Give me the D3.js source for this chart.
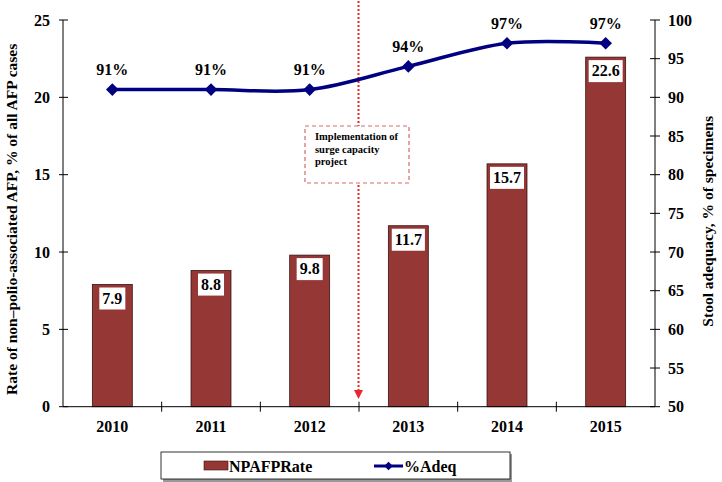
<!DOCTYPE html>
<html>
<head>
<meta charset="utf-8">
<script src="https://cdn.jsdelivr.net/npm/d3@7"></script>
<style>
  body { margin: 0; background: #fff; }
  svg { display: block; }
  text { font-family: "Liberation Serif", "Times New Roman", serif; font-weight: bold; fill: #000; }
</style>
</head>
<body>
<svg id="chart" width="722" height="482"></svg>
<script>
const years = ["2010", "2011", "2012", "2013", "2014", "2015"];
const npafpRate = [7.9, 8.8, 9.8, 11.7, 15.7, 22.6];
const adequacy = [91, 91, 91, 94, 97, 97];
const leftTicks = [0, 5, 10, 15, 20, 25];
const rightTicks = [50, 55, 60, 65, 70, 75, 80, 85, 90, 95, 100];
const seriesNames = ["NPAFPRate", "%Adeq"];
const annotationLines = ["Implementation of", "surge capacity", "project"];
const leftTitle = "Rate of non\u2013polio-associated AFP, % of all AFP cases";
const rightTitle = "Stool adequacy, % of specimens";

const svg = d3.select("#chart");
const L = 63, R = 655, T = 20, B = 406.7;
const barColor = "#953735", lineColor = "#000080";

const x = d3.scaleBand().domain(years).range([L, R]).paddingInner(0).paddingOuter(0);
const yL = d3.scaleLinear().domain([0, 25]).range([B, T]);
const yR = d3.scaleLinear().domain([50, 100]).range([B, T]);
const barW = x.bandwidth() * 0.405;
const cx = d => x(d) + x.bandwidth() / 2;

// bars
const bars = svg.append("g");
years.forEach((yr, i) => {
  bars.append("rect")
    .attr("x", cx(yr) - barW / 2).attr("y", yL(npafpRate[i]))
    .attr("width", barW).attr("height", yL(0) - yL(npafpRate[i]))
    .attr("fill", barColor).attr("stroke", "#3b1010").attr("stroke-width", 0.8);
});

// bar labels
years.forEach((yr, i) => {
  const g = svg.append("g");
  const t = g.append("text").attr("x", cx(yr)).attr("y", yL(npafpRate[i]) + 19)
    .attr("text-anchor", "middle").attr("font-size", 16).text(npafpRate[i].toFixed(1));
  const bb = t.node().getBBox();
  g.insert("rect", "text").attr("x", bb.x - 3).attr("y", yL(npafpRate[i]) + 3)
    .attr("width", bb.width + 6).attr("height", 22).attr("fill", "#fff");
});

// axes
const axes = svg.append("g").attr("stroke", "#000").attr("stroke-width", 1);
axes.append("line").attr("x1", L).attr("x2", L).attr("y1", T).attr("y2", B);
axes.append("line").attr("x1", R).attr("x2", R).attr("y1", T).attr("y2", B);
axes.append("line").attr("x1", L).attr("x2", R).attr("y1", B).attr("y2", B);
leftTicks.forEach(v => {
  axes.append("line").attr("x1", L - 4).attr("x2", L + 5).attr("y1", yL(v)).attr("y2", yL(v));
  svg.append("text").attr("x", L - 13).attr("y", yL(v)).attr("dy", "0.35em")
    .attr("text-anchor", "end").attr("font-size", 16).text(v);
});
rightTicks.forEach(v => {
  axes.append("line").attr("x1", R - 5).attr("x2", R + 5).attr("y1", yR(v)).attr("y2", yR(v));
  svg.append("text").attr("x", R + 13).attr("y", yR(v)).attr("dy", "0.35em")
    .attr("text-anchor", "start").attr("font-size", 16).text(v);
});
years.forEach((yr, i) => {
  if (i > 0) axes.append("line").attr("x1", x(yr)).attr("x2", x(yr)).attr("y1", B - 5).attr("y2", B + 5);
  svg.append("text").attr("x", cx(yr)).attr("y", B + 20).attr("dy", "0.35em")
    .attr("text-anchor", "middle").attr("font-size", 16).text(yr);
});

// axis titles
svg.append("text").attr("transform", `translate(17,${(T + B) / 2 + 6}) rotate(-90)`)
  .attr("text-anchor", "middle").attr("font-size", 15.5).text(leftTitle);
svg.append("text").attr("transform", `translate(713,${(T + B) / 2 + 8}) rotate(-90)`)
  .attr("text-anchor", "middle").attr("font-size", 15.5).text(rightTitle);

// annotation dotted line with arrow
const defs = svg.append("defs");
defs.append("marker").attr("id", "arrow").attr("viewBox", "0 0 10 10")
  .attr("refX", 5).attr("refY", 10).attr("markerWidth", 9).attr("markerHeight", 9)
  .attr("markerUnits", "userSpaceOnUse").attr("orient", "auto-start-reverse")
  .append("path").attr("d", "M0,0 L10,0 L5,10 Z").attr("fill", "#e8262b");
const ax = x("2013") - 0.5;
svg.append("line").attr("x1", ax).attr("x2", ax).attr("y1", 1).attr("y2", 390)
  .attr("stroke", "#e8262b").attr("stroke-width", 2).attr("stroke-dasharray", "2,2");
svg.append("path").attr("d", `M${ax - 4.5},390 L${ax + 4.5},390 L${ax},399 Z`).attr("fill", "#e8262b");

// annotation box
svg.append("rect").attr("x", 305).attr("y", 126).attr("width", 104).attr("height", 57)
  .attr("fill", "#fff").attr("stroke", "#d46a6a").attr("stroke-width", 1.2).attr("stroke-dasharray", "4,3");
annotationLines.forEach((s, i) => {
  svg.append("text").attr("x", 315).attr("y", 140 + i * 12.5).attr("font-size", 10.5).text(s);
});

// line
const line = d3.line().x((d, i) => cx(years[i])).y(d => yR(d)).curve(d3.curveCatmullRom.alpha(0));
svg.append("path").datum(adequacy).attr("d", line).attr("fill", "none")
  .attr("stroke", lineColor).attr("stroke-width", 3.5);
const diamond = d3.symbol().type(d3.symbolSquare).size(80);
adequacy.forEach((v, i) => {
  svg.append("path").attr("d", diamond())
    .attr("transform", `translate(${cx(years[i])},${yR(v)}) rotate(45)`).attr("fill", lineColor);
  svg.append("text").attr("x", cx(years[i])).attr("y", yR(v) - 20).attr("dy", "0.35em")
    .attr("text-anchor", "middle").attr("font-size", 16).text(v + "%");
});

// legend
const lg = svg.append("g");
lg.append("rect").attr("x", 163).attr("y", 454).attr("width", 349).attr("height", 28).attr("fill", "#999");
lg.append("rect").attr("x", 161).attr("y", 452).attr("width", 349).attr("height", 27)
  .attr("fill", "#fff").attr("stroke", "#000").attr("stroke-width", 0.8);
lg.append("rect").attr("x", 204).attr("y", 461).attr("width", 24).attr("height", 9)
  .attr("fill", barColor).attr("stroke", "#3b1010").attr("stroke-width", 0.6);
lg.append("text").attr("x", 229).attr("y", 466).attr("dy", "0.35em").attr("font-size", 16).text(seriesNames[0]);
lg.append("line").attr("x1", 374).attr("x2", 403).attr("y1", 466).attr("y2", 466)
  .attr("stroke", lineColor).attr("stroke-width", 3);
lg.append("path").attr("d", d3.symbol().type(d3.symbolSquare).size(36)())
  .attr("transform", "translate(388.5,466) rotate(45)").attr("fill", lineColor);
lg.append("text").attr("x", 404).attr("y", 466).attr("dy", "0.35em").attr("font-size", 16).text(seriesNames[1]);
</script>
</body>
</html>
